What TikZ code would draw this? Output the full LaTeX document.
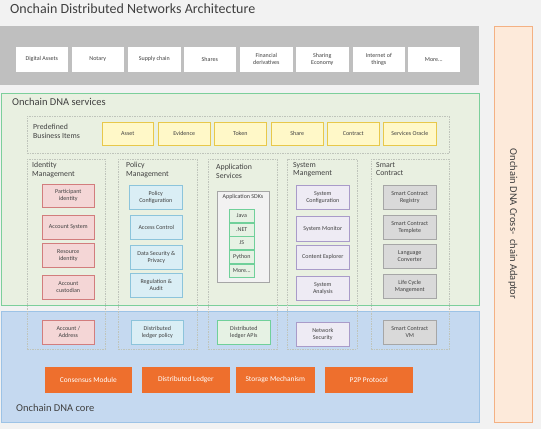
\documentclass[tikz,border=0pt]{standalone}
\usepackage{fontspec}
\setmainfont{Carlito}
\definecolor{bgc}{HTML}{F2F2F2}
\definecolor{band}{HTML}{BFBFBF}
\definecolor{grnF}{HTML}{E9F0E1}
\definecolor{grnD}{HTML}{7CCF9B}
\definecolor{bluF}{HTML}{C5D9F0}
\definecolor{bluD}{HTML}{9DC3E6}
\definecolor{ornF}{HTML}{FDEADA}
\definecolor{ornD}{HTML}{F4B183}
\definecolor{yelF}{HTML}{FFF8C8}
\definecolor{yelD}{HTML}{E8C84A}
\definecolor{pnkF}{HTML}{F4D6D6}
\definecolor{pnkD}{HTML}{D27D7D}
\definecolor{lbF}{HTML}{DAEEF5}
\definecolor{lbD}{HTML}{8CC4DB}
\definecolor{lavF}{HTML}{EEEBF4}
\definecolor{lavD}{HTML}{A99BC9}
\definecolor{gryF}{HTML}{D9D9D9}
\definecolor{gryD}{HTML}{A6A6A6}
\definecolor{sdkF}{HTML}{E6F2E4}
\definecolor{sdkD}{HTML}{70D09A}
\definecolor{core}{HTML}{EE6F2D}
\definecolor{txt}{HTML}{404040}
\definecolor{colD}{HTML}{BFC4BB}
\tikzset{
  base/.style={draw, line width=0.6pt, inner sep=1pt, align=center, text=txt, font=\fontsize{6}{6.8}\selectfont},
  white/.style={base, fill=white, draw=white},
  yel/.style={base, fill=yelF, draw=yelD},
  pnk/.style={base, fill=pnkF, draw=pnkD},
  lb/.style={base, fill=lbF, draw=lbD},
  lav/.style={base, fill=lavF, draw=lavD},
  gry/.style={base, fill=gryF, draw=gryD},
  sdk/.style={base, fill=sdkF, draw=sdkD},
  corebox/.style={base, fill=core, draw=core, text=white, font=\fontsize{7.4}{8}\selectfont},
  colbox/.style={draw=colD, dash pattern=on 1.5pt off 1pt, line width=0.5pt, inner sep=0pt},
  collabel/.style={anchor=north west, align=left, text=txt, inner sep=0pt, font=\fontsize{7.8}{8.6}\selectfont},
  seclabel/.style={anchor=west, text=txt, inner sep=0pt, font=\fontsize{10.5}{12}\selectfont},
}
\newcommand\bx[7]{\node[#6, anchor=north west, minimum width=#4pt, minimum height=#5pt] (#1) at (#2,#3) {#7};}
\begin{document}
\begin{tikzpicture}[x=1pt,y=-1pt]
\useasboundingbox (0,0) rectangle (541,429);
\fill[bgc] (0,0) rectangle (541,429);
% title
\node[anchor=west, text=txt, inner sep=0pt, font=\fontsize{14}{16}\selectfont] (title) at (10,9) {Onchain Distributed Networks Architecture};
% top band
\bx{band}{0}{26}{479}{59}{draw=none, fill=band}{}
\bx{b1}{16}{47}{51}{24}{white}{Digital Assets}
\bx{b2}{72}{47}{51}{24}{white}{Notary}
\bx{b3}{128}{47}{52}{24}{white}{Supply chain}
\bx{b4}{184}{47}{51}{24}{white}{Shares}
\bx{b5}{240}{47}{52}{24}{white}{Financial\\derivatives}
\bx{b6}{296}{47}{52}{24}{white}{Sharing\\Economy}
\bx{b7}{353}{47}{51}{24}{white}{Internet of\\things}
\bx{b8}{408}{47}{51}{24}{white}{More...}
% side adaptor
\bx{side}{494}{26}{38}{396}{draw=ornD, fill=ornF, line width=0.8pt}{}
\node[rotate=-90, text=txt, inner sep=0pt, font=\fontsize{10.5}{12}\selectfont] (sidelabel) at (513,224) {Onchain DNA Cross-\ \ chain Adaptor};
% services area
\bx{svc}{0.5}{93}{478.5}{212}{draw=grnD, fill=grnF, line width=0.8pt}{}
\node[seclabel] (svclabel) at (12,102) {Onchain DNA services};
% core area
\bx{core}{0.5}{311}{478.5}{111}{draw=bluD, fill=bluF, line width=0.8pt}{}
\node[seclabel] (corelabel) at (16,408) {Onchain DNA core};
% predefined business items
\bx{pbi}{27}{116}{422}{37}{colbox}{}
\node[collabel] (pbilabel) at (33,124) {Predefined\\Business Items};
\bx{y1}{102}{122}{51}{23}{yel}{Asset}
\bx{y2}{158}{122}{52}{23}{yel}{Evidence}
\bx{y3}{214}{122}{52}{23}{yel}{Token}
\bx{y4}{271}{122}{52}{23}{yel}{Share}
\bx{y5}{327}{122}{52}{23}{yel}{Contract}
\bx{y6}{383}{122}{53}{23}{yel}{Services Oracle}
% columns
\bx{c1}{27}{159}{78}{190}{colbox}{}
\bx{c2}{118}{159}{79}{190}{colbox}{}
\bx{c3}{208}{159}{69}{190}{colbox}{}
\bx{c4}{287}{159}{70}{190}{colbox}{}
\bx{c5}{371}{159}{78}{190}{colbox}{}
\node[collabel] (c1l) at (32,162) {Identity\\Management};
\node[collabel] (c2l) at (126,162) {Policy\\Management};
\node[collabel] (c3l) at (216,164) {Application\\Services};
\node[collabel] (c4l) at (293,162) {System\\Mangement};
\node[collabel] (c5l) at (376,162) {Smart\\Contract};
% identity
\bx{i1}{42}{184}{52}{23}{pnk}{Participant\\identity}
\bx{i2}{42}{215}{52}{24}{pnk}{Account System}
\bx{i3}{42}{243}{52}{24}{pnk}{Resource\\identity}
\bx{i4}{42}{275}{52}{24}{pnk}{Account\\custodian}
\bx{i5}{42}{320}{52}{24}{pnk}{Account /\\Address}
% policy
\bx{p1}{129}{185}{53}{24}{lb}{Policy\\Configuration}
\bx{p2}{130}{215}{52}{24}{lb}{Access Control}
\bx{p3}{130}{245}{52}{24}{lb}{Data Security \&\\Privacy}
\bx{p4}{130}{273}{52}{24}{lb}{Regulation \&\\Audit}
\bx{p5}{131}{320}{52}{24}{lb}{Distributed\\ledger policy}
% application
\bx{sdks}{217}{191}{52}{91}{base, fill=bgc, draw=gryD}{}
\node[anchor=north, text=txt, inner sep=0pt, font=\fontsize{6}{6.8}\selectfont] (sdkl) at (243,194) {Application SDKs};
\bx{s1}{229}{209}{25}{12.5}{sdk}{Java}
\bx{s2}{229}{223}{25}{12.5}{sdk}{.NET}
\bx{s3}{229}{236}{25}{12.5}{sdk}{JS}
\bx{s4}{229}{250}{25}{12.5}{sdk}{Python}
\bx{s5}{229}{264}{25}{12.5}{sdk}{More...}
\bx{a1}{217}{320}{53}{24}{sdk}{Distributed\\ledger APIs}
% system
\bx{m1}{296}{185}{53}{24}{lav}{System\\Configuration}
\bx{m2}{296}{216}{53}{25}{lav}{System Monitor}
\bx{m3}{296}{245}{53}{24}{lav}{Content Explorer}
\bx{m4}{296}{276}{53}{24}{lav}{System\\Analysis}
\bx{m5}{296}{322}{53}{24}{lav}{Network\\Security}
% smart contract
\bx{k1}{383}{185}{53}{24}{gry}{Smart Contract\\Registry}
\bx{k2}{383}{215}{53}{24}{gry}{Smart Contract\\Templete}
\bx{k3}{383}{244}{53}{24}{gry}{Language\\Converter}
\bx{k4}{383}{274}{53}{24}{gry}{Life Cycle\\Mangement}
\bx{k5}{383}{320}{53}{24}{gry}{Smart Contract\\VM}
% core modules
\bx{o1}{45}{367}{86}{25}{corebox}{Consensus Module}
\bx{o2}{142}{367}{87}{25}{corebox}{Distributed Ledger}
\bx{o3}{236}{367}{78}{25}{corebox}{Storage Mechanism}
\bx{o4}{325}{367}{87}{25}{corebox}{P2P Protocol}
\end{tikzpicture}
\end{document}
